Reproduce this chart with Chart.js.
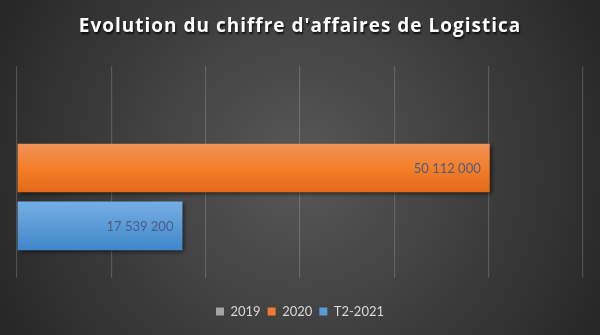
<!DOCTYPE html>
<html><head><meta charset="utf-8">
<script src="https://cdn.jsdelivr.net/npm/chart.js@4"></script>
<style>html,body{margin:0;padding:0;background:#333;}#wrap{width:600px;height:335px;position:relative;}</style>
</head><body><div id="wrap"><canvas id="c"></canvas></div>
<script>
const categories = ["Chiffre d'affaires"];
const seriesNames = ['2019', '2020', 'T2-2021'];
const values2019 = [null];
const values2020 = [50112000];
const valuesT2_2021 = [17539200];
const xAxisMax = 60000000;
const xAxisStep = 10000000;
const titleText = "Evolution du chiffre d'affaires de Logistica";

const seriesColors = ['#A5A5A5', '#ED7D31', '#5B9BD5'];
const gradStops = [
  ['#c4c4c4', '#a5a5a5', '#8f8f8f'],
  ['#f2925a', '#f47f27', '#e2691a'],
  ['#74aee6', '#5b9bd5', '#3f86cc']
];

function fmt(v) {
  return String(Math.round(v)).replace(/\B(?=(\d{3})+(?!\d))/g, ' ');
}

const bgPlugin = {
  id: 'bg',
  beforeDraw(chart) {
    const {ctx, width, height} = chart;
    ctx.save();
    const g = ctx.createRadialGradient(width / 2, height / 2, 0, width / 2, height / 2, Math.hypot(width, height) / 2);
    g.addColorStop(0, '#585858');
    g.addColorStop(1, '#262626');
    ctx.fillStyle = g;
    ctx.fillRect(0, 0, width, height);
    ctx.font = 'bold 19px "Open Sans"';
    try { ctx.letterSpacing = '1px'; } catch (e) {}
    ctx.textAlign = 'center';
    ctx.textBaseline = 'alphabetic';
    ctx.shadowColor = 'rgba(0,0,0,0.8)';
    ctx.shadowOffsetX = 1;
    ctx.shadowOffsetY = 1.5;
    ctx.shadowBlur = 2;
    ctx.fillStyle = '#ffffff';
    ctx.fillText(titleText, width / 2, 32);
    ctx.restore();
  }
};

const barStylePlugin = {
  id: 'barStyle',
  beforeDatasetsDraw(chart) {
    const ctx = chart.ctx;
    chart.data.datasets.forEach((ds, di) => {
      const meta = chart.getDatasetMeta(di);
      meta.data.forEach(el => {
        if (el.height === undefined || isNaN(el.y)) return;
        const top = el.y - el.height / 2, bot = el.y + el.height / 2;
        const g = ctx.createLinearGradient(0, top, 0, bot);
        const s = gradStops[di];
        g.addColorStop(0, s[0]);
        g.addColorStop(0.5, s[1]);
        g.addColorStop(1, s[2]);
        el.options = Object.assign({}, el.options, {backgroundColor: g});
      });
    });
  },
  beforeDatasetDraw(chart) {
    const ctx = chart.ctx;
    ctx.save();
    ctx.shadowColor = 'rgba(0,0,0,0.55)';
    ctx.shadowOffsetX = 2;
    ctx.shadowOffsetY = 2;
    ctx.shadowBlur = 4;
  },
  afterDatasetDraw(chart) {
    chart.ctx.restore();
  },
  afterDatasetsDraw(chart) {
    const ctx = chart.ctx;
    ctx.save();
    ctx.font = '13px Lato';
    ctx.fillStyle = '#4a5b8c';
    ctx.textAlign = 'right';
    ctx.textBaseline = 'middle';
    chart.data.datasets.forEach((ds, di) => {
      const meta = chart.getDatasetMeta(di);
      meta.data.forEach((el, i) => {
        const v = ds.data[i];
        if (v === null || v === undefined) return;
        ctx.fillText(fmt(v), el.x - 9, el.y + 1);
      });
    });
    ctx.restore();
  }
};

new Chart(document.getElementById('c'), {
  type: 'bar',
  data: {
    labels: categories,
    datasets: [
      {label: seriesNames[0], data: values2019, backgroundColor: seriesColors[0]},
      {label: seriesNames[1], data: values2020, backgroundColor: seriesColors[1]},
      {label: seriesNames[2], data: valuesT2_2021, backgroundColor: seriesColors[2]}
    ]
  },
  options: {
    indexAxis: 'y',
    responsive: true,
    maintainAspectRatio: false,
    animation: false,
    categoryPercentage: 0.851,
    barPercentage: 0.839,
    layout: {padding: {left: 17, right: 17, top: 66, bottom: 7}},
    scales: {
      x: {
        min: 0, max: xAxisMax,
        ticks: {display: false, stepSize: xAxisStep},
        grid: {color: 'rgba(255,255,255,0.17)', lineWidth: 1.2, drawTicks: true, tickLength: 8},
        border: {display: false},
        afterFit(scale) { scale.height += 20; }
      },
      y: {display: false}
    },
    plugins: {
      title: {display: false},
      tooltip: {enabled: false},
      legend: {
        position: 'bottom',
        labels: {
          color: '#D9D9D9',
          font: {family: 'Lato', size: 13},
          boxWidth: 8, boxHeight: 8,
          padding: 7
        }
      }
    }
  },
  plugins: [bgPlugin, barStylePlugin]
});
</script>
</body></html>
